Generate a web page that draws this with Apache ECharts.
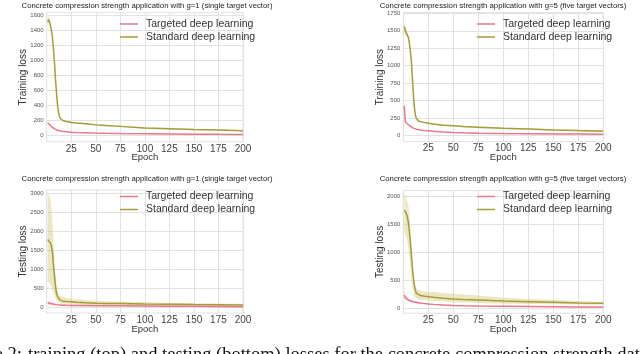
<!DOCTYPE html>
<html><head><meta charset="utf-8">
<script src="https://cdn.jsdelivr.net/npm/echarts@6/dist/echarts.min.js"></script>
<style>html,body{margin:0;padding:0;background:#fff}#c{width:640px;height:354px}</style>
</head><body><div id="c"></div>
<script>
// ---- data ----
const epochs = [1,2,3,4,5,6,7,8,9,10,11,12,13,14,15,17,20,25,30,40,50,60,75,100,125,150,175,200];
const xTicks = [25,50,75,100,125,150,175,200];
const seriesNames = ['Targeted deep learning','Standard deep learning'];

// Top-left: training loss, g=1
const tlStdMean = [1510,1540,1500,1450,1380,1280,1130,950,740,560,400,300,250,220,200,190,180,168,160,150,135,128,115,92,82,72,66,58];
const tlStdLo   = [1470,1500,1470,1430,1365,1265,1115,935,725,545,388,290,241,211,192,182,172,160,152,142,127,120,107,85,75,65,59,51];
const tlStdHi   = [1580,1585,1540,1475,1395,1295,1145,965,755,575,412,310,259,229,208,198,188,176,168,158,143,136,123,99,89,79,73,65];
const tlTgtMean = [165,150,135,122,110,100,90,82,75,70,65,60,56,53,50,46,42,36,33,29,25,22,19,16,13,11,9,8];
const tlTgtLo   = [155,141,127,115,104,94,85,77,70,65,60,56,52,49,46,42,38,32,29,25,21,18,15,12,9,7,5,4];
const tlTgtHi   = [175,159,143,129,116,106,95,87,80,75,70,64,60,57,54,50,46,40,37,33,29,26,23,20,17,15,13,12];
const tlYTicks  = [0,200,400,600,800,1000,1200,1400,1600];

// Top-right: training loss, g=5
const trStdMean = [1560,1500,1470,1440,1410,1330,1220,1080,840,610,415,300,250,225,210,200,190,178,168,150,143,132,120,105,96,82,72,63];
const trStdLo   = [1480,1430,1420,1400,1390,1312,1202,1062,822,592,400,288,240,215,200,190,180,168,158,140,133,122,110,96,87,73,63,54];
const trStdHi   = [1650,1560,1520,1480,1430,1348,1238,1098,858,628,430,312,260,235,220,210,200,188,178,160,153,142,130,114,105,91,81,72];
const trTgtMean = [430,200,185,170,155,145,135,125,115,108,102,97,93,89,85,80,75,70,62,52,45,40,35,30,27,24,22,20];
const trTgtLo   = [400,192,177,163,149,139,129,120,110,103,97,92,88,84,80,75,70,65,57,47,40,35,30,25,22,19,17,15];
const trTgtHi   = [455,208,193,177,161,151,141,130,120,113,107,102,98,94,90,85,80,75,67,57,50,45,40,35,32,29,27,25];
const trYTicks  = [0,250,500,750,1000,1250,1500,1750];

// Bottom-left: testing loss, g=1
const blStdMean = [1780,1770,1740,1680,1580,1410,1080,800,540,370,280,230,200,180,165,155,150,145,135,120,108,102,98,88,80,70,65,60];
const blStdLo   = [670,650,630,590,540,460,370,300,240,180,140,120,110,105,100,95,92,90,82,72,62,58,55,48,44,40,37,35];
const blStdHi   = [2990,2960,2900,2800,2550,2100,1600,1200,850,580,430,360,320,300,285,265,245,225,210,190,170,160,150,135,120,108,98,90];
const blTgtMean = [120,112,105,98,92,87,82,78,74,70,67,64,62,60,58,56,53,50,48,45,42,40,38,34,30,25,20,17];
const blTgtLo   = [75,70,65,60,56,53,50,48,46,44,42,40,39,38,37,36,34,32,30,28,26,24,22,20,17,13,10,8];
const blTgtHi   = [165,155,145,136,128,120,114,108,103,98,94,90,87,84,82,79,75,71,68,64,60,57,54,50,45,40,34,30];
const blYTicks  = [0,500,1000,1500,2000,2500,3000];

// Bottom-right: testing loss, g=5
const brStdMean = [1760,1730,1700,1640,1550,1400,1195,985,745,565,420,330,270,250,238,228,220,208,198,182,167,158,149,131,119,107,95,90];
const brStdLo   = [1340,1310,1280,1200,1100,950,750,566,390,270,220,197,180,170,160,155,148,140,132,120,110,102,95,82,76,72,68,65];
const brStdHi   = [2060,2020,1970,1920,1850,1700,1460,1165,806,600,450,387,350,335,328,318,305,298,290,275,260,245,230,190,170,150,130,110];
const brTgtMean = [240,190,175,162,150,142,135,128,123,119,114,110,106,103,100,95,88,77,70,58,50,45,40,35,30,27,24,22];
const brTgtLo   = [170,150,140,130,122,116,110,105,101,98,95,92,89,86,84,80,75,66,60,50,43,39,34,30,25,22,20,18];
const brTgtHi   = [450,230,210,195,180,170,160,152,146,140,135,130,125,121,117,110,100,88,80,67,58,52,47,41,36,32,29,27];
const brYTicks  = [0,500,1000,1500,2000];

// ---- styling ----
const PINK = '#e7788b', OLIVE = '#a59c3a';
const PINK_BAND = 'rgba(236,130,150,0.30)', OLIVE_BAND = 'rgba(200,185,80,0.35)';
const GRID_C = '#e2e2e2';
const FONT = 'Liberation Sans, Arial, sans-serif';

const panels = [
  {grid:{left:46.7, width:196.3, top:12.75, height:129}, y:[-90,1630], ticks:tlYTicks, yName:'Training loss',
   std:[tlStdMean,tlStdLo,tlStdHi], tgt:[tlTgtMean,tlTgtLo,tlTgtHi],
   title:'Concrete compression strength application with g=1 (single target vector)', tx:147, ty:6, leg:{left:120, top:17.5}},
  {grid:{left:403.3, width:200, top:12.6, height:129}, y:[-85,1760], ticks:trYTicks, yName:'Training loss',
   std:[trStdMean,trStdLo,trStdHi], tgt:[trTgtMean,trTgtLo,trTgtHi],
   title:'Concrete compression strength application with g=5 (five target vectors)', tx:503, ty:6, leg:{left:477, top:17.5}},
  {grid:{left:46.7, width:196.3, top:190, height:123}, y:[-150,3080], ticks:blYTicks, yName:'Testing loss',
   std:[blStdMean,blStdLo,blStdHi], tgt:[blTgtMean,blTgtLo,blTgtHi],
   title:'Concrete compression strength application with g=1 (single target vector)', tx:147, ty:179, leg:{left:120, top:190}},
  {grid:{left:403.3, width:200, top:190.6, height:122.7}, y:[-90,2110], ticks:brYTicks, yName:'Testing loss',
   std:[brStdMean,brStdLo,brStdHi], tgt:[brTgtMean,brTgtLo,brTgtHi],
   title:'Concrete compression strength application with g=5 (five target vectors)', tx:503, ty:179, leg:{left:477, top:190}}
];

const grids=[], xAxes=[], yAxes=[], series=[], legends=[], graphics=[];
const pairs = arr => epochs.map((e,i)=>[e, arr[i]]);

function bandSeries(k, lo, hi, fill){
  return {type:'custom', xAxisIndex:k, yAxisIndex:k, silent:true, animation:false, z:1,
    data: epochs.map((e,i)=>[e, lo[i], hi[i]]),
    encode:{x:0, y:[1,2]},
    renderItem:function(params, api){
      if (params.dataIndex !== 0) return null;
      const pts = [];
      for (let i=0;i<epochs.length;i++) pts.push(api.coord([epochs[i], hi[i]]));
      for (let i=epochs.length-1;i>=0;i--) pts.push(api.coord([epochs[i], lo[i]]));
      return {type:'polygon', shape:{points:pts}, style:{fill:fill, stroke:null}};
    }};
}

panels.forEach((p,k)=>{
  grids.push(Object.assign({show:true, borderColor:GRID_C, borderWidth:1, backgroundColor:'#fff'}, p.grid));
  xAxes.push({gridIndex:k, type:'value', min:0, max:200, interval:25,
    axisLine:{show:false}, axisTick:{show:false},
    axisLabel:{fontSize:10, color:'#444', fontFamily:FONT, margin:2, formatter:v => xTicks.indexOf(v)>=0 ? String(v) : ''},
    splitLine:{show:true, lineStyle:{color:GRID_C, width:1}},
    name:'Epoch', nameLocation:'middle', nameGap:11, nameMoveOverlap:false, nameTextStyle:{fontSize:9.5, color:'#333', fontFamily:FONT}});
  yAxes.push({gridIndex:k, type:'value', min:p.y[0], max:p.y[1],
    axisLine:{show:false}, axisTick:{show:false, customValues:p.ticks},
    axisLabel:{fontSize:6, color:'#555', fontFamily:FONT, margin:3, customValues:p.ticks, formatter:v => String(v)},
    splitLine:{show:true, lineStyle:{color:GRID_C, width:1}},
    name:p.yName, nameLocation:'middle', nameGap:18, nameMoveOverlap:false, nameTextStyle:{fontSize:10, color:'#333', fontFamily:FONT}});
  const base = {type:'line', xAxisIndex:k, yAxisIndex:k, showSymbol:false, symbol:'none', silent:true, animation:false, z:3};
  series.push(bandSeries(k, p.std[1], p.std[2], OLIVE_BAND));
  series.push(bandSeries(k, p.tgt[1], p.tgt[2], PINK_BAND));
  series.push(Object.assign({}, base, {name:seriesNames[1], data:pairs(p.std[0]), color:OLIVE, lineStyle:{color:OLIVE, width:1.5}}));
  series.push(Object.assign({}, base, {name:seriesNames[0], data:pairs(p.tgt[0]), color:PINK, lineStyle:{color:PINK, width:1.5}}));
  legends.push({left:p.leg.left, top:p.leg.top, padding:0, orient:'vertical', icon:'rect', itemWidth:18, itemHeight:1.5, itemGap:0,
    data:seriesNames, selectedMode:false,
    textStyle:{fontSize:10.5, color:'#333', fontFamily:FONT, lineHeight:13, padding:[0,0,0,3]}});
  graphics.push({type:'text', x:p.tx, y:p.ty, style:{text:p.title, fontSize:7.75, fontFamily:FONT, fill:'#222', align:'center', verticalAlign:'middle'}});
});

// figure caption (cut off at the bottom of the picture)
const CAP_FONT = 'Liberation Serif, Times New Roman, serif';
graphics.push({type:'text', x:22, y:355, style:{text:'Figure 2:', fontSize:18.5, fontFamily:CAP_FONT, fill:'#111', align:'right', verticalAlign:'middle'}});
graphics.push({type:'text', x:28, y:355, style:{text:'training (top) and testing (bottom) losses for the concrete compression strength data', fontSize:18.5, fontFamily:CAP_FONT, fill:'#111', align:'left', verticalAlign:'middle'}});

const chart = echarts.init(document.getElementById('c'), null, {renderer:'canvas'});
chart.setOption({animation:false, backgroundColor:'#fff', grid:grids, xAxis:xAxes, yAxis:yAxes, series:series, legend:legends, graphic:graphics});
</script></body></html>
